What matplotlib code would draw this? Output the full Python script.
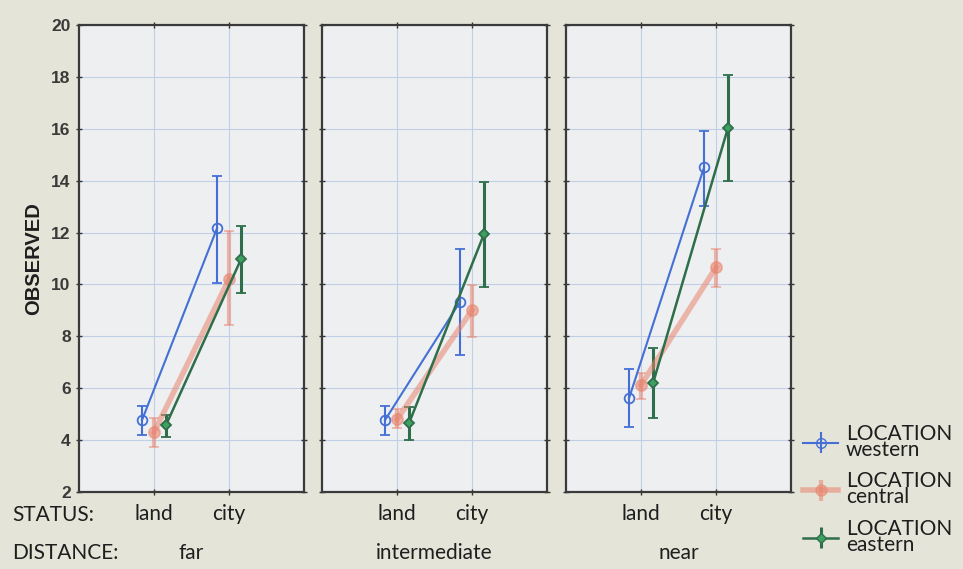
import matplotlib
matplotlib.use("Agg")
import matplotlib.pyplot as plt
import numpy as np

# ── data ───────────────────────────────────────────────────────────────────
STATUS = ["land", "city"]
DISTANCE = ["far", "intermediate", "near"]
LOCATIONS = ["western", "central", "eastern"]

# mean, lower and upper error-bar ends per distance x status
western_mean = [[4.77, 12.16], [4.77, 9.33], [5.61, 14.51]]
western_low = [[4.20, 10.07], [4.20, 7.29], [4.51, 13.02]]
western_high = [[5.31, 14.19], [5.31, 11.38], [6.74, 15.93]]

central_mean = [[4.30, 10.20], [4.80, 9.01], [6.12, 10.66]]
central_low = [[3.75, 8.43], [4.45, 7.98], [5.60, 9.91]]
central_high = [[4.85, 12.07], [5.20, 9.98], [6.60, 11.35]]

eastern_mean = [[4.58, 10.97], [4.65, 11.94], [6.19, 16.04]]
eastern_low = [[4.13, 9.66], [4.00, 9.89], [4.84, 14.00]]
eastern_high = [[4.97, 12.26], [5.27, 13.95], [7.54, 18.07]]

SERIES = {
    "western": (western_mean, western_low, western_high),
    "central": (central_mean, central_low, central_high),
    "eastern": (eastern_mean, eastern_low, eastern_high),
}

# ── styles ─────────────────────────────────────────────────────────────────
BG = "#e4e5d8"
PANEL_BG = "#eeeff1"
GRID = "#bfd0e6"
TXT = "#1e1e1e"
OFFSET = {"western": -0.16, "central": 0.0, "eastern": 0.16}
STYLE = {
    "western": dict(color="#4470d6", lw=1.5, elw=1.5, marker="o", ms=7,
                    mfc="none", mec="#4470d6", alpha=1.0),
    "central": dict(color="#e8846e", lw=4.0, elw=3.0, marker="o", ms=8,
                    mfc="#e8846e", mec="#e8846e", alpha=0.55),
    "eastern": dict(color="#2f6e4a", lw=1.8, elw=2.2, marker="D", ms=5,
                    mfc="#3ea060", mec="#2f6e4a", alpha=1.0),
}
LABEL_KW = dict(fontsize=15, color=TXT)

plt.rcParams["font.family"] = ["Lato", "DejaVu Sans"]

fig = plt.figure(figsize=(9.63, 5.69), dpi=100, facecolor=BG)

lefts = [79, 322, 566]
W, H = 225, 467
bottom_px = 569 - 492
x = np.arange(len(STATUS))

axes = []
for pi, dist in enumerate(DISTANCE):
    ax = fig.add_axes([lefts[pi] / 963, bottom_px / 569, W / 963, H / 569])
    ax.set_facecolor(PANEL_BG)
    axes.append(ax)

    for loc in LOCATIONS:
        mean, low, high = SERIES[loc]
        m = np.array(mean[pi])
        lo = m - np.array(low[pi])
        hi = np.array(high[pi]) - m
        st = STYLE[loc]
        ax.errorbar(x + OFFSET[loc], m, yerr=[lo, hi],
                    color=st["color"], lw=st["lw"], elinewidth=st["elw"],
                    capsize=3.5, capthick=st["elw"] * 0.8,
                    marker=st["marker"], ms=st["ms"], mfc=st["mfc"],
                    mec=st["mec"], mew=1.3, alpha=st["alpha"], zorder=3)

    ax.set_xlim(-1, 2)
    ax.set_ylim(2, 20)
    ax.set_yticks(np.arange(2, 21, 2))
    ax.set_xticks(x)
    ax.set_xticklabels(STATUS, **LABEL_KW)
    ax.grid(True, color=GRID, lw=0.8, zorder=0)
    ax.set_axisbelow(True)
    ax.tick_params(axis="both", direction="inout", length=5, width=1.0,
                   color="#333333", top=True, right=True)
    ax.tick_params(axis="x", pad=6)
    for sp in ax.spines.values():
        sp.set_color("#3a3a3a")
        sp.set_linewidth(1.6)
    if pi == 0:
        for lab in ax.get_yticklabels():
            lab.set_fontfamily("Liberation Sans")
            lab.set_fontweight("bold")
            lab.set_fontsize(12.5)
            lab.set_color("#3a3a3a")
        ax.set_ylabel("OBSERVED", fontsize=14.5, fontweight="bold",
                      fontfamily="Liberation Sans", color=TXT,
                      labelpad=6)
    else:
        ax.set_yticklabels([])
    ax.text(0.5, -0.131, dist, transform=ax.transAxes, ha="center",
            va="center", **LABEL_KW)

fig.text(12 / 963, 1 - 515 / 569, "STATUS:", ha="left", va="center",
         **LABEL_KW)
fig.text(12 / 963, 1 - 553 / 569, "DISTANCE:", ha="left", va="center",
         **LABEL_KW)

# legend
handles = []
for loc in LOCATIONS:
    st = STYLE[loc]
    h = axes[0].errorbar([], [], yerr=[], color=st["color"], lw=st["lw"],
                         elinewidth=st["elw"], capsize=3.5,
                         marker=st["marker"], ms=st["ms"], mfc=st["mfc"],
                         mec=st["mec"], alpha=st["alpha"])
    handles.append(h)
fig.legend(handles, [f"LOCATION\n{l}" for l in LOCATIONS],
           loc="upper left", bbox_to_anchor=(803 / 963, 1 - 424 / 569),
           frameon=False, prop=dict(size=15),
           handlelength=1.7, handletextpad=0.35,
           labelspacing=0.55, borderpad=0.0, borderaxespad=0.0)
for t in fig.legends[0].get_texts():
    t.set_linespacing(0.75)
    t.set_color(TXT)

fig.savefig("out.png", dpi=100, facecolor=BG)
